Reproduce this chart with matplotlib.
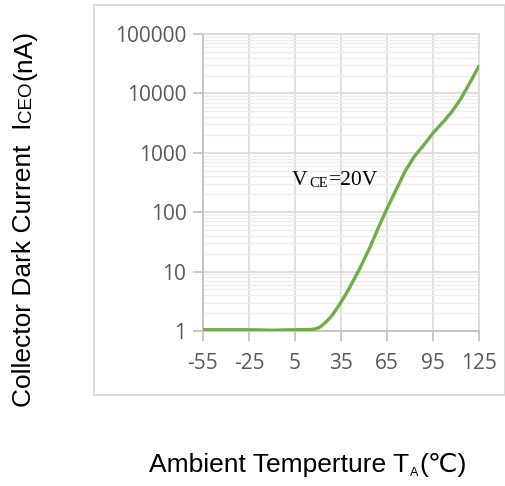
import matplotlib
matplotlib.use("Agg")
import matplotlib.pyplot as plt
from matplotlib.patches import Rectangle

# data (VCE = 20V)
temp_c = [-55, -40, -25, -10, 5, 15, 18, 21, 25, 29, 33, 37, 41, 47, 54, 60,
          66, 71, 77, 83, 89, 95, 102, 107, 113, 119, 125]
iceo_na = [1.05, 1.05, 1.05, 1.03, 1.05, 1.06, 1.08, 1.15, 1.4, 1.8, 2.55, 3.7, 5.6,
           11, 26, 60, 130, 240, 500, 880, 1350, 2150, 3400, 4800, 8000, 15000, 29000]

x_ticks = [-55, -25, 5, 35, 65, 95, 125]
y_ticks = [1, 10, 100, 1000, 10000, 100000]
y_tick_labels = ["1", "10", "100", "1000", "10000", "100000"]

W, H = 506, 486
fig = plt.figure(figsize=(W / 100, H / 100), dpi=100)

# light chart-area frame
fig.patches.append(Rectangle((94 / W, 1 - 395 / H), (505 - 94) / W, (395 - 5) / H,
                             transform=fig.transFigure, fill=False,
                             edgecolor="#d9d9d9", linewidth=1.3))

ax = fig.add_axes([203 / W, 1 - 331 / H, 276 / W, 297 / H])
ax.set_yscale("log")
ax.set_xlim(-55, 125)
ax.set_ylim(1, 100000)

ax.plot(temp_c, iceo_na, color="#70ad47", linewidth=2.4, solid_capstyle="round",
        solid_joinstyle="round", zorder=3)

ax.set_xticks(x_ticks)
ax.set_xticklabels([str(t) for t in x_ticks])
ax.set_yticks(y_ticks)
ax.set_yticklabels(y_tick_labels)
ax.minorticks_on()
ax.xaxis.set_minor_locator(matplotlib.ticker.NullLocator())

ax.grid(True, which="major", color="#d9d9d9", linewidth=1.2)
ax.grid(True, which="minor", axis="y", color="#eeeeee", linewidth=0.9)
ax.set_axisbelow(True)

for s in ax.spines.values():
    s.set_color("#d9d9d9")
    s.set_linewidth(1.2)
ax.spines["left"].set_color("#bfbfbf")
ax.spines["bottom"].set_color("#bfbfbf")

ax.tick_params(which="major", length=7, width=1.2, color="#bfbfbf",
               labelcolor="#595959", labelsize=15)
ax.tick_params(axis="x", pad=9)
ax.tick_params(axis="y", pad=5)
ax.tick_params(which="minor", length=0)
for lab in ax.get_xticklabels() + ax.get_yticklabels():
    lab.set_fontfamily("Open Sans")

# annotation V_CE=20V (serif, smaller CE)
serif = "Liberation Serif"
tv = fig.text(292 / W, 1 - 185 / H, "V", fontfamily=serif, fontsize=15.5, va="baseline")
tce = ax.annotate("CE", xy=(1, 0), xycoords=tv, xytext=(1, 0), textcoords="offset points",
                  fontfamily=serif, fontsize=10.5, va="bottom")
ax.annotate("=20V", xy=(1, 0), xycoords=tce, xytext=(1, 0), textcoords="offset points",
            fontfamily=serif, fontsize=15.5, va="bottom")

# y label: "Collector Dark Current  I" + small "CEO" + "(nA)"
sans = ["Liberation Sans", "DejaVu Sans"]
yl = fig.text(31 / W, 1 - 407 / H, "Collector Dark Current  I", fontfamily=sans,
              fontsize=19, rotation=90, rotation_mode="anchor",
              ha="left", va="baseline")
fig.canvas.draw()
yc = fig.text(0, 0, "CEO", fontfamily=sans, fontsize=13.5, rotation=90,
              rotation_mode="anchor", ha="left", va="baseline")
bb = yl.get_window_extent()
yc.set_position((31 / W, (bb.y1 + 1) / H))
fig.canvas.draw()
bb2 = yc.get_window_extent()
fig.text(31 / W, (bb2.y1 + 1) / H, "(nA)", fontfamily=sans, fontsize=19, rotation=90,
         rotation_mode="anchor", ha="left", va="baseline")

# x label: "Ambient Temperture T" + subscript "A" + "(℃)"
xl = fig.text(149 / W, 1 - 472 / H, "Ambient Temperture T", fontfamily=sans,
              fontsize=19, va="baseline")
fig.canvas.draw()
bx = xl.get_window_extent()
xa = fig.text((bx.x1 + 1) / W, 1 - 476 / H, "A", fontfamily=sans, fontsize=9,
              va="baseline")
fig.canvas.draw()
bx2 = xa.get_window_extent()
fig.text((bx2.x1 + 1) / W, 1 - 472 / H, "(℃)", fontfamily=sans, fontsize=19,
         va="baseline")

fig.savefig("out.png", dpi=100)
